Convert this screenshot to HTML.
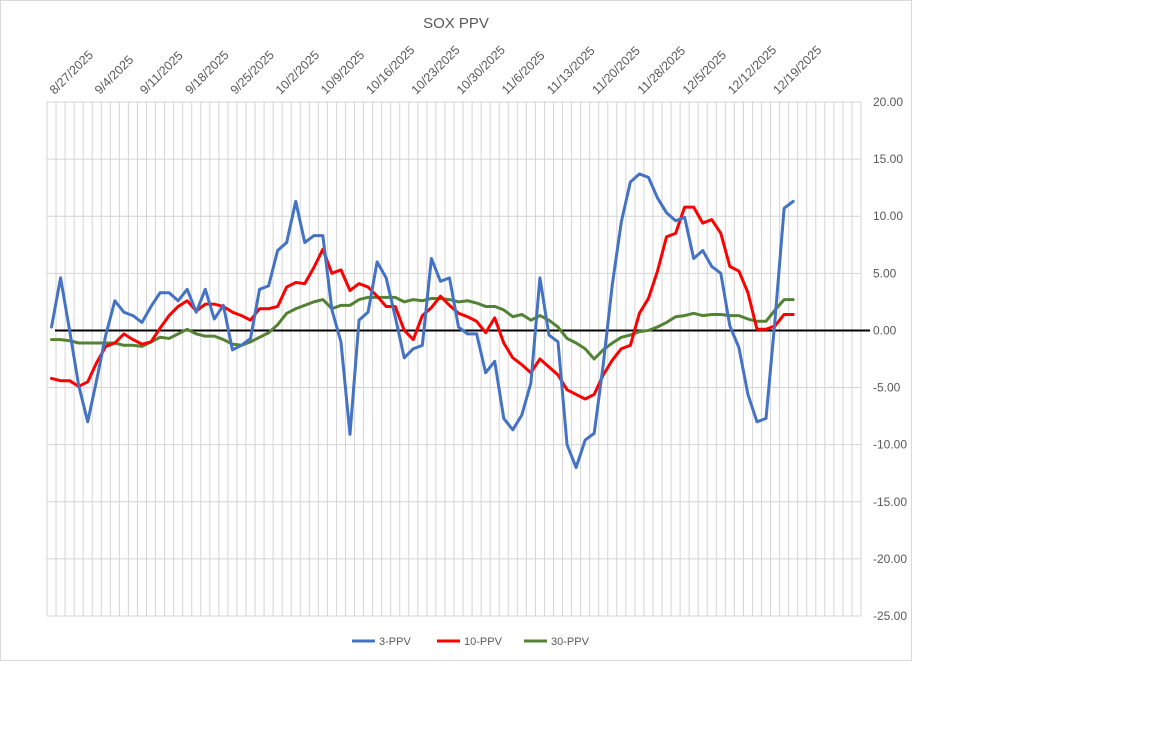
<!DOCTYPE html>
<html><head><meta charset="utf-8"><style>
html,body{margin:0;padding:0;background:#fff;}
svg{display:block;font-family:"Liberation Sans",sans-serif;}
</style></head><body>
<svg id="chart" width="1152" height="737">
<rect x="0.5" y="0.5" width="911" height="660" fill="#fff" stroke="#d9d9d9"/>
<text x="456" y="28" text-anchor="middle" font-size="15" fill="#595959">SOX PPV</text>
<g id="grid"></g><g id="xlabels"></g><g id="ylabels"></g><g id="series"></g>
<g>
<g><line x1="352" y1="641" x2="375" y2="641" stroke="#4472c4" stroke-width="3"/><text x="379" y="645" font-size="11" fill="#595959">3-PPV</text></g>
<g><line x1="437" y1="641" x2="460" y2="641" stroke="#ff0000" stroke-width="3"/><text x="464" y="645" font-size="11" fill="#595959">10-PPV</text></g>
<g><line x1="524" y1="641" x2="547" y2="641" stroke="#548235" stroke-width="3"/><text x="551" y="645" font-size="11" fill="#595959">30-PPV</text></g>
</g>
</svg>
<script>
const dateLabels=["8/27/2025","9/4/2025","9/11/2025","9/18/2025","9/25/2025","10/2/2025","10/9/2025","10/16/2025","10/23/2025","10/30/2025","11/6/2025","11/13/2025","11/20/2025","11/28/2025","12/5/2025","12/12/2025","12/19/2025"];
const yTicks=[20,15,10,5,0,-5,-10,-15,-20,-25];
const ppv3=[0.3,4.6,0.0,-4.8,-8.0,-4.3,-0.4,2.6,1.6,1.3,0.7,2.1,3.3,3.3,2.6,3.6,1.6,3.6,1.0,2.2,-1.7,-1.3,-0.7,3.6,3.9,7.0,7.7,11.3,7.7,8.3,8.3,1.8,-1.0,-9.1,0.9,1.6,6.0,4.6,1.2,-2.4,-1.6,-1.3,6.3,4.3,4.6,0.3,-0.3,-0.3,-3.7,-2.7,-7.7,-8.7,-7.4,-4.6,4.6,-0.4,-1.0,-10.0,-12.0,-9.6,-9.0,-3.0,4.0,9.5,13.0,13.7,13.4,11.6,10.3,9.6,9.9,6.3,7.0,5.6,5.0,0.4,-1.5,-5.6,-8.0,-7.7,1.0,10.7,11.3];
const ppv10=[-4.2,-4.4,-4.4,-4.9,-4.5,-2.8,-1.4,-1.1,-0.3,-0.8,-1.2,-1.0,0.2,1.3,2.1,2.6,1.7,2.3,2.3,2.1,1.6,1.3,0.9,1.9,1.9,2.1,3.8,4.2,4.1,5.5,7.1,5.0,5.3,3.5,4.1,3.8,3.0,2.1,2.1,0.0,-0.8,1.3,2.0,3.0,2.2,1.5,1.2,0.8,-0.2,1.1,-1.1,-2.4,-3.0,-3.7,-2.5,-3.2,-3.9,-5.2,-5.6,-6.0,-5.6,-3.9,-2.6,-1.6,-1.3,1.5,2.8,5.2,8.2,8.5,10.8,10.8,9.4,9.7,8.5,5.6,5.2,3.3,0.1,0.1,0.4,1.4,1.4];
const ppv30=[-0.8,-0.8,-0.9,-1.1,-1.1,-1.1,-1.1,-1.1,-1.3,-1.3,-1.4,-1.0,-0.6,-0.7,-0.3,0.1,-0.3,-0.5,-0.5,-0.8,-1.2,-1.3,-1.0,-0.6,-0.2,0.5,1.5,1.9,2.2,2.5,2.7,1.9,2.2,2.2,2.7,2.9,2.9,2.9,2.9,2.5,2.7,2.6,2.8,2.8,2.7,2.5,2.6,2.4,2.1,2.1,1.8,1.2,1.4,0.9,1.3,0.9,0.3,-0.7,-1.1,-1.6,-2.5,-1.7,-1.1,-0.6,-0.4,-0.1,0.0,0.3,0.7,1.2,1.3,1.5,1.3,1.4,1.4,1.3,1.3,1.0,0.8,0.8,1.8,2.7,2.7];
const NS="http://www.w3.org/2000/svg";
const L=47,R=861,T=102,B=616,NCAT=90,YMAX=20,YMIN=-25;
const step=(R-L)/NCAT;
function xPos(i){return L+step*(i+0.5);}
function yPos(v){return T+(YMAX-v)/(YMAX-YMIN)*(B-T);}
function mk(tag,attrs,parent){const e=document.createElementNS(NS,tag);for(const k in attrs)e.setAttribute(k,attrs[k]);parent.appendChild(e);return e;}
const grid=document.getElementById('grid');
for(let i=0;i<=NCAT;i++){const x=L+step*i;
 const g=mk('line',{x1:x,y1:T,x2:x,y2:B,stroke:'#d4d4d4','stroke-width':1},grid);
 
 }
const yl=document.getElementById('ylabels');
yTicks.forEach(v=>{const y=yPos(v);
 if(v!==0){const g=mk('line',{x1:L,y1:y,x2:R,y2:y,stroke:'#d4d4d4','stroke-width':1},grid);
  
  }
 const t=mk('text',{x:873,y:y+4,'font-size':12,fill:'#595959'},yl);t.textContent=v.toFixed(2);
 
 });
const zl=mk('line',{x1:55,y1:yPos(0),x2:870,y2:yPos(0),stroke:'#000','stroke-width':2},grid);


const xl=document.getElementById('xlabels');
dateLabels.forEach((d,k)=>{const x=xPos(1+5*k)-6,y=95;
 const t=mk('text',{x:x,y:y,'font-size':12.5,fill:'#595959',transform:`rotate(-45 ${x} ${y})`},xl);t.textContent=d;
 
 });
const ser=document.getElementById('series');
[[ppv30,'#548235','series-30-ppv'],[ppv10,'#ff0000','series-10-ppv'],[ppv3,'#4472c4','series-3-ppv']].forEach(([arr,c,n])=>{
 const p=mk('polyline',{points:arr.map((v,i)=>xPos(i)+','+yPos(v)).join(' '),fill:'none',stroke:c,'stroke-width':3,'stroke-linejoin':'round','stroke-linecap':'round'},ser);
 
 });
</script>
</body></html>
